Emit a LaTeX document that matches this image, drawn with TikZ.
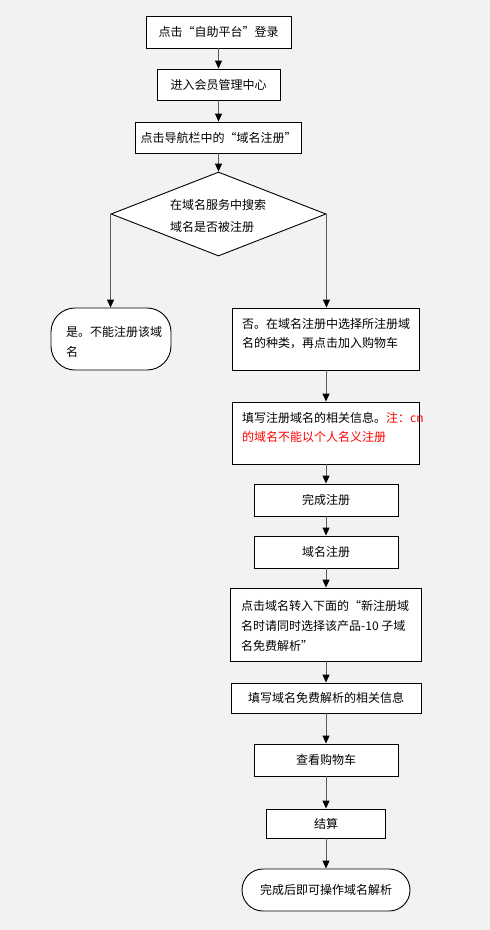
\documentclass[tikz,border=0pt]{standalone}
\usepackage{fontspec}
\setmainfont{Noto Sans CJK SC}
\usetikzlibrary{shapes.geometric,arrows.meta}
\definecolor{bgc}{HTML}{F2F2F2}
\definecolor{linec}{HTML}{5A5A5A}
\begin{document}
\begin{tikzpicture}[x=1pt,y=-1pt,
  box/.style={draw=black,fill=white,line width=0.9pt,inner sep=0pt,font=\fontsize{12}{14}\selectfont},
  term/.style={box,rounded corners=#1},
  txt/.style={inner sep=0pt,anchor=west,align=left},
  arr/.style={draw=linec,line width=1pt,-{Triangle[width=7pt,length=8pt,color=black]}}
]
\fill[bgc] (0,0) rectangle (490,930);
\useasboundingbox (0,0) rectangle (490,930);

% left/top column
\node[box,minimum width=145pt,minimum height=32pt] (b1) at (218.5,32) {点击“自助平台”登录};
\node[box,minimum width=123pt,minimum height=31pt] (b2) at (218.5,84.5) {进入会员管理中心};
\node[box,minimum width=166pt,minimum height=31pt] (b3) at (218.5,137.5) {点击导航栏中的“域名注册”};
\node[draw=black,fill=white,line width=0.9pt,shape=diamond,inner sep=0pt,
      minimum width=215pt,minimum height=84pt] (dia) at (218.5,214) {};
\node[txt,font=\fontsize{12}{22}\selectfont] (diat) at (170,216) {在域名服务中搜索\\域名是否被注册};

\node[term=24pt,minimum width=120pt,minimum height=62pt] (yes) at (111,339) {};
\node[txt,font=\fontsize{12}{20}\selectfont] (yest) at (66,342) {是。不能注册该域\\名};

% right column
\node[box,minimum width=187pt,minimum height=62pt] (n1) at (326,339) {};
\node[txt,font=\fontsize{12}{19.5}\selectfont] (n1t) at (242,333.5) {否。在域名注册中选择所注册域\\名的种类，再点击加入购物车};

\node[box,minimum width=187pt,minimum height=62pt] (n2) at (326,433) {};
\node[txt,font=\fontsize{12}{19.5}\selectfont] (n2t) at (242,427.5) {填写注册域名的相关信息。\textcolor{red}{注：cn}\\\textcolor{red}{的域名不能以个人名义注册}};

\node[box,minimum width=144pt,minimum height=32pt] (n3) at (326,500) {完成注册};
\node[box,minimum width=144pt,minimum height=32pt] (n4) at (326,552) {域名注册};

\node[box,minimum width=191pt,minimum height=73pt] (n5) at (326,624.5) {};
\node[txt,font=\fontsize{12}{20}\selectfont] (n5t) at (241,626) {点击域名转入下面的“新注册域\\名时请同时选择该产品-10 子域\\名免费解析”};

\node[box,minimum width=190pt,minimum height=30pt] (n6) at (326,698) {填写域名免费解析的相关信息};
\node[box,minimum width=144pt,minimum height=32pt] (n7) at (326,760) {查看购物车};
\node[box,minimum width=119pt,minimum height=29pt] (n8) at (326,823.5) {结算};
\node[term=21pt,minimum width=168pt,minimum height=42pt] (fin) at (326,890) {完成后即可操作域名解析};

% connectors
\draw[arr] (b1) -- (b2);
\draw[arr] (b2) -- (b3);
\draw[arr] (b3) -- (dia);
\draw[arr] (dia.west) -- (dia.west |- yes.north);
\draw[arr] (dia.east) -- (dia.east |- n1.north);
\draw[arr] (n1) -- (n2);
\draw[arr] (n2) -- (n3);
\draw[arr] (n3) -- (n4);
\draw[arr] (n4) -- (n5);
\draw[arr] (n5) -- (n6);
\draw[arr] (n6) -- (n7);
\draw[arr] (n7) -- (n8);
\draw[arr] (n8) -- (fin);
\end{tikzpicture}
\end{document}
